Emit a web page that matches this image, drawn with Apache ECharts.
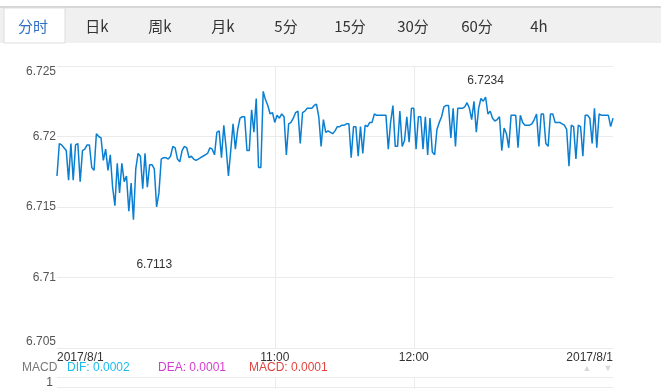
<!DOCTYPE html>
<html>
<head>
<meta charset="utf-8">
<script src="https://cdn.jsdelivr.net/npm/echarts@6/dist/echarts.min.js"></script>
<style>
html,body{margin:0;padding:0;background:#fff;}
#chart{width:665px;height:389px;}
</style>
</head>
<body>
<div id="chart"></div>
<script>
// ---- data ----
var tabLabels = ['分时', '日k', '周k', '月k', '5分', '15分', '30分', '60分', '4h'];
var dateLabel = '2017/8/1';
var startMinute = 9 * 60 + 26;   // 09:26
var pointCount = 241;            // one point per minute, 09:26 - 13:26
var labelTimes = ['11:00', '12:00'];
var prices = [
6.7172,6.7195,6.7194,6.7192,6.7190,6.7169,6.7195,6.7169,6.7194,6.7195,
6.7168,6.7190,6.7191,6.7194,6.7194,6.7178,6.7176,6.7202,6.7200,6.7199,
6.7183,6.7191,6.7176,6.7187,6.7164,6.7151,6.7181,6.7160,6.7181,6.7168,
6.7172,6.7147,6.7167,6.7141,6.7177,6.7188,6.7186,6.7163,6.7188,6.7164,
6.7180,6.7180,6.7177,6.7150,6.7160,6.7184,6.7185,6.7185,6.7184,6.7186,
6.7193,6.7192,6.7184,6.7182,6.7190,6.7193,6.7192,6.7185,6.7186,6.7184,
6.7183,6.7184,6.7185,6.7186,6.7187,6.7188,6.7192,6.7191,6.7187,6.7203,
6.7204,6.7185,6.7208,6.7192,6.7172,6.7190,6.7209,6.7191,6.7205,6.7213,
6.7214,6.7214,6.7190,6.7190,6.7219,6.7203,6.7227,6.7178,6.7178,6.7232,
6.7226,6.7222,6.7216,6.7217,6.7210,6.7215,6.7213,6.7216,6.7214,6.7187,
6.7209,6.7210,6.7213,6.7217,6.7218,6.7195,6.7217,6.7218,6.7220,6.7220,
6.7220,6.7222,6.7223,6.7214,6.7193,6.7212,6.7203,6.7204,6.7203,6.7202,
6.7204,6.7207,6.7207,6.7208,6.7208,6.7209,6.7209,6.7185,6.7207,6.7207,
6.7186,6.7207,6.7188,6.7208,6.7207,6.7210,6.7210,6.7216,6.7215,6.7215,
6.7215,6.7215,6.7215,6.7191,6.7210,6.7222,6.7193,6.7193,6.7218,6.7193,
6.7197,6.7214,6.7196,6.7220,6.7220,6.7191,6.7214,6.7214,6.7191,6.7214,
6.7187,6.7213,6.7189,6.7187,6.7205,6.7210,6.7214,6.7221,6.7222,6.7222,
6.7199,6.7220,6.7193,6.7220,6.7220,6.7220,6.7221,6.7224,6.7220,6.7212,
6.7225,6.7203,6.7220,6.7227,6.7225,6.7228,6.7216,6.7218,6.7213,6.7211,
6.7212,6.7214,6.7190,6.7206,6.7202,6.7192,6.7215,6.7215,6.7215,6.7192,
6.7215,6.7210,6.7208,6.7208,6.7208,6.7209,6.7212,6.7216,6.7193,6.7216,
6.7216,6.7195,6.7193,6.7216,6.7216,6.7210,6.7210,6.7210,6.7209,6.7208,
6.7205,6.7179,6.7208,6.7207,6.7184,6.7208,6.7207,6.7186,6.7215,6.7215,
6.7213,6.7195,6.7220,6.7192,6.7216,6.7215,6.7215,6.7215,6.7215,6.7207,
6.7213
];
var yTicks = [6.705, 6.71, 6.715, 6.72, 6.725];
var lowMark = { time: '10:08', value: 6.7113, text: '6.7113' };
var highMark = { time: '12:31', value: 6.7234, text: '6.7234' };
var macdLabels = [
  { text: 'MACD', color: '#777777' },
  { text: 'DIF: 0.0002', color: '#1cbcec' },
  { text: 'DEA: 0.0001', color: '#d43cd0' },
  { text: 'MACD: 0.0001', color: '#e0443f' }
];

// ---- categories (time labels) ----
var times = [];
for (var i = 0; i < pointCount; i++) {
  var m = startMinute + i;
  var hh = Math.floor(m / 60), mm = m % 60;
  times.push((hh < 10 ? '0' : '') + hh + ':' + (mm < 10 ? '0' : '') + mm);
}
var labelIdx = labelTimes.map(function (t) { return times.indexOf(t); });

var font = '"Liberation Sans", Arial, "Noto Sans CJK SC", sans-serif';
var cjkFont = '"Noto Sans CJK SC", "Liberation Sans", sans-serif';

// ---- graphic: tabs, MACD line, arrows ----
var tabX = [33, 97, 160, 223, 286, 350, 413, 477, 539];
var graphics = [
  { type: 'rect', shape: { x: 0, y: 6, width: 661, height: 37 }, style: { fill: '#f0f0f0' }, silent: true },
  { type: 'rect', shape: { x: 0, y: 6, width: 661, height: 2 }, style: { fill: '#d6d6d6' }, silent: true },
  { type: 'rect', shape: { x: 4, y: 8, width: 61, height: 35 }, style: { fill: '#ffffff', stroke: '#dddddd', lineWidth: 1 }, silent: true }
];
tabLabels.forEach(function (t, k) {
  graphics.push({
    type: 'text', x: tabX[k], y: 26,
    style: { text: t, fill: k === 0 ? '#2f6fc4' : '#333333', font: '15px ' + cjkFont, align: 'center', verticalAlign: 'middle' },
    silent: true
  });
});
var macdX = [22, 67, 158, 249];
macdLabels.forEach(function (l, k) {
  graphics.push({
    type: 'text', x: macdX[k], y: 368,
    style: { text: l.text, fill: l.color, font: '12px ' + font, align: 'left', verticalAlign: 'middle' },
    silent: true
  });
});
graphics.push({ type: 'text', x: 587, y: 369, style: { text: '▲', fill: '#d8d8d8', font: '9px ' + font, align: 'center', verticalAlign: 'middle' }, silent: true });
graphics.push({ type: 'text', x: 608, y: 369, style: { text: '▼', fill: '#d8d8d8', font: '9px ' + font, align: 'center', verticalAlign: 'middle' }, silent: true });

var chart = echarts.init(document.getElementById('chart'), null, { renderer: 'canvas' });
chart.setOption({
  animation: false,
  backgroundColor: '#ffffff',
  textStyle: { fontFamily: font },
  graphic: graphics,
  grid: [
    { left: 57, top: 66, width: 556, height: 282 },
    { left: 57, top: 377, width: 556, height: 80 }
  ],
  xAxis: [
    {
      type: 'category', gridIndex: 0, data: times, boundaryGap: false,
      axisLine: { show: false }, axisTick: { show: false },
      axisLabel: {
        color: '#333', fontSize: 12, margin: 4,
        interval: function (idx) { return idx === 0 || idx === pointCount - 1 || labelIdx.indexOf(idx) >= 0; },
        formatter: function (v, idx) { return (idx === 0 || idx === pointCount - 1) ? dateLabel : v; },
        alignMinLabel: 'left', alignMaxLabel: 'right'
      },
      splitLine: { show: true, interval: function (idx) { return labelIdx.indexOf(idx) >= 0; }, lineStyle: { color: '#ebebeb', width: 1 } }
    },
    {
      type: 'category', gridIndex: 1, data: times, boundaryGap: false,
      axisLine: { show: false }, axisTick: { show: false }, axisLabel: { show: false },
      splitLine: { show: true, interval: function (idx) { return labelIdx.indexOf(idx) >= 0; }, lineStyle: { color: '#ebebeb', width: 1 } }
    }
  ],
  yAxis: [
    {
      type: 'value', gridIndex: 0, min: yTicks[0], max: yTicks[yTicks.length - 1], interval: 0.005,
      axisLine: { show: false }, axisTick: { show: false },
      axisLabel: { color: '#555', fontSize: 12, margin: 1, verticalAlignMaxLabel: 'top', verticalAlignMinLabel: 'bottom' },
      splitLine: { lineStyle: { color: '#ebebeb', width: 1 } }
    },
    {
      type: 'value', gridIndex: 1, min: -1, max: 1, interval: 1,
      axisLine: { show: false }, axisTick: { show: false },
      axisLabel: { color: '#555', fontSize: 12, margin: 4, verticalAlignMaxLabel: 'top', formatter: function (v) { return v === 1 ? '1' : ''; } },
      splitLine: { show: true, interval: 0, lineStyle: { color: '#ebebeb' } }
    }
  ],
  series: [
    {
      type: 'line', xAxisIndex: 0, yAxisIndex: 0, data: prices,
      showSymbol: false, symbol: 'none',
      lineStyle: { color: '#0a7fd2', width: 1.5 },
      markPoint: {
        symbol: 'circle', symbolSize: 0,
        label: { show: true, color: '#333', fontSize: 12 },
        data: [
          { coord: [lowMark.time, lowMark.value], label: { formatter: lowMark.text, position: 'bottom', distance: 0 } },
          { coord: [highMark.time, highMark.value], label: { formatter: highMark.text, position: 'top', distance: 2 } }
        ]
      }
    }
  ]
});
</script>
</body>
</html>
